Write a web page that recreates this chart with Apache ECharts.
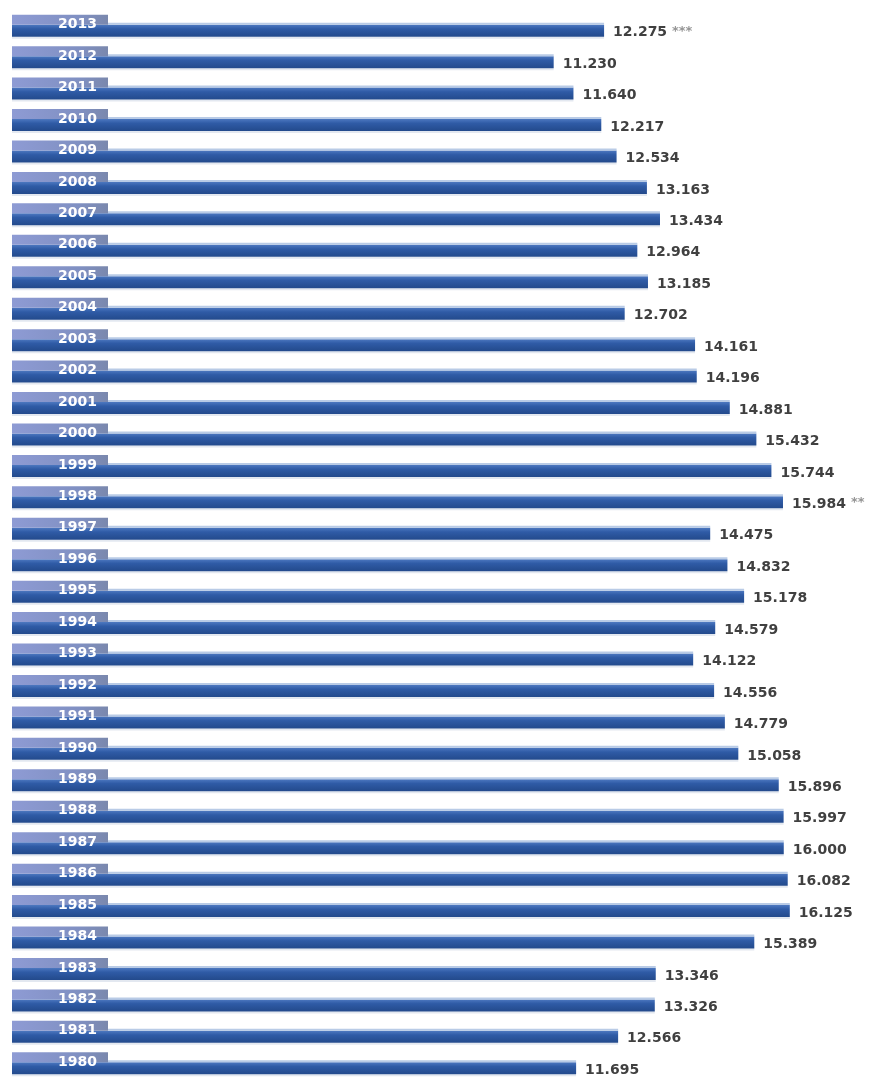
<!DOCTYPE html>
<html>
<head>
<meta charset="utf-8">
<script src="https://cdn.jsdelivr.net/npm/echarts@6/dist/echarts.min.js"></script>
<style>html,body{margin:0;padding:0;background:#fff;}#c{width:875px;height:1084px;}</style>
</head>
<body>
<div id="c"></div>
<script>
const years = ['2013','2012','2011','2010','2009','2008','2007','2006','2005','2004','2003','2002','2001','2000','1999','1998','1997','1996','1995','1994','1993','1992','1991','1990','1989','1988','1987','1986','1985','1984','1983','1982','1981','1980'];
const values = [12.275,11.230,11.640,12.217,12.534,13.163,13.434,12.964,13.185,12.702,14.161,14.196,14.881,15.432,15.744,15.984,14.475,14.832,15.178,14.579,14.122,14.556,14.779,15.058,15.896,15.997,16.000,16.082,16.125,15.389,13.346,13.326,12.566,11.695];
const notes = {'2013':'***','1998':'**'};

const chart = echarts.init(document.getElementById('c'));
const data = values.map((v,i)=>[v,i]);
chart.setOption({
  animation:false,
  grid:{left:12, top:15, width:820, height:1074},
  xAxis:{type:'value', min:0, max:17, show:false},
  yAxis:{type:'category', data:years, inverse:true, show:false},
  series:[{
    type:'custom',
    clip:false,
    data:data,
    renderItem:function(params, api){
      const v = api.value(0), idx = api.value(1);
      const end = api.coord([v, idx]);
      const start = api.coord([0, idx]);
      const cy = end[1];
      const yr = years[idx];
      const note = notes[yr] || '';
      return {type:'group', children:[
        {type:'rect', shape:{x:start[0], y:cy+6, width:end[0]-start[0], height:2},
          style:{fill:'#e3e8f0'}},
        {type:'rect', shape:{x:start[0], y:cy-6, width:end[0]-start[0], height:12},
          style:{fill:new echarts.graphic.LinearGradient(0,0,0,1,[
            {offset:0,color:'#4d78c0'},{offset:0.35,color:'#2f5ba6'},{offset:1,color:'#234a8c'}])}},
        {type:'rect', shape:{x:start[0], y:cy-16, width:96, height:10},
          style:{fill:new echarts.graphic.LinearGradient(0,0,1,0,[
            {offset:0,color:'#8e9bd4'},{offset:0.7,color:'#8090c2'},{offset:1,color:'#7a88ad'}])}},
        {type:'rect', shape:{x:start[0]+96, y:cy-8, width:Math.max(0,end[0]-start[0]-96), height:2},
          style:{fill:'#b9cbe6'}},
        {type:'text', style:{x:start[0]+85, y:cy-6, text:yr, align:'right', verticalAlign:'middle',
          fill:'#ffffff', font:'bold 14px "DejaVu Sans"'}},
        {type:'text', style:{x:end[0]+9, y:cy+2, verticalAlign:'middle',
          text:values[idx].toFixed(3) + (note ? ' {n|'+note+'}' : ''),
          fill:'#404040', font:'bold 14px "DejaVu Sans"',
          rich:{n:{fill:'#959595', font:'bold 13px "DejaVu Sans"', padding:[0,0,3,0]}}}}
      ]};
    }
  }]
});
</script>
</body>
</html>
